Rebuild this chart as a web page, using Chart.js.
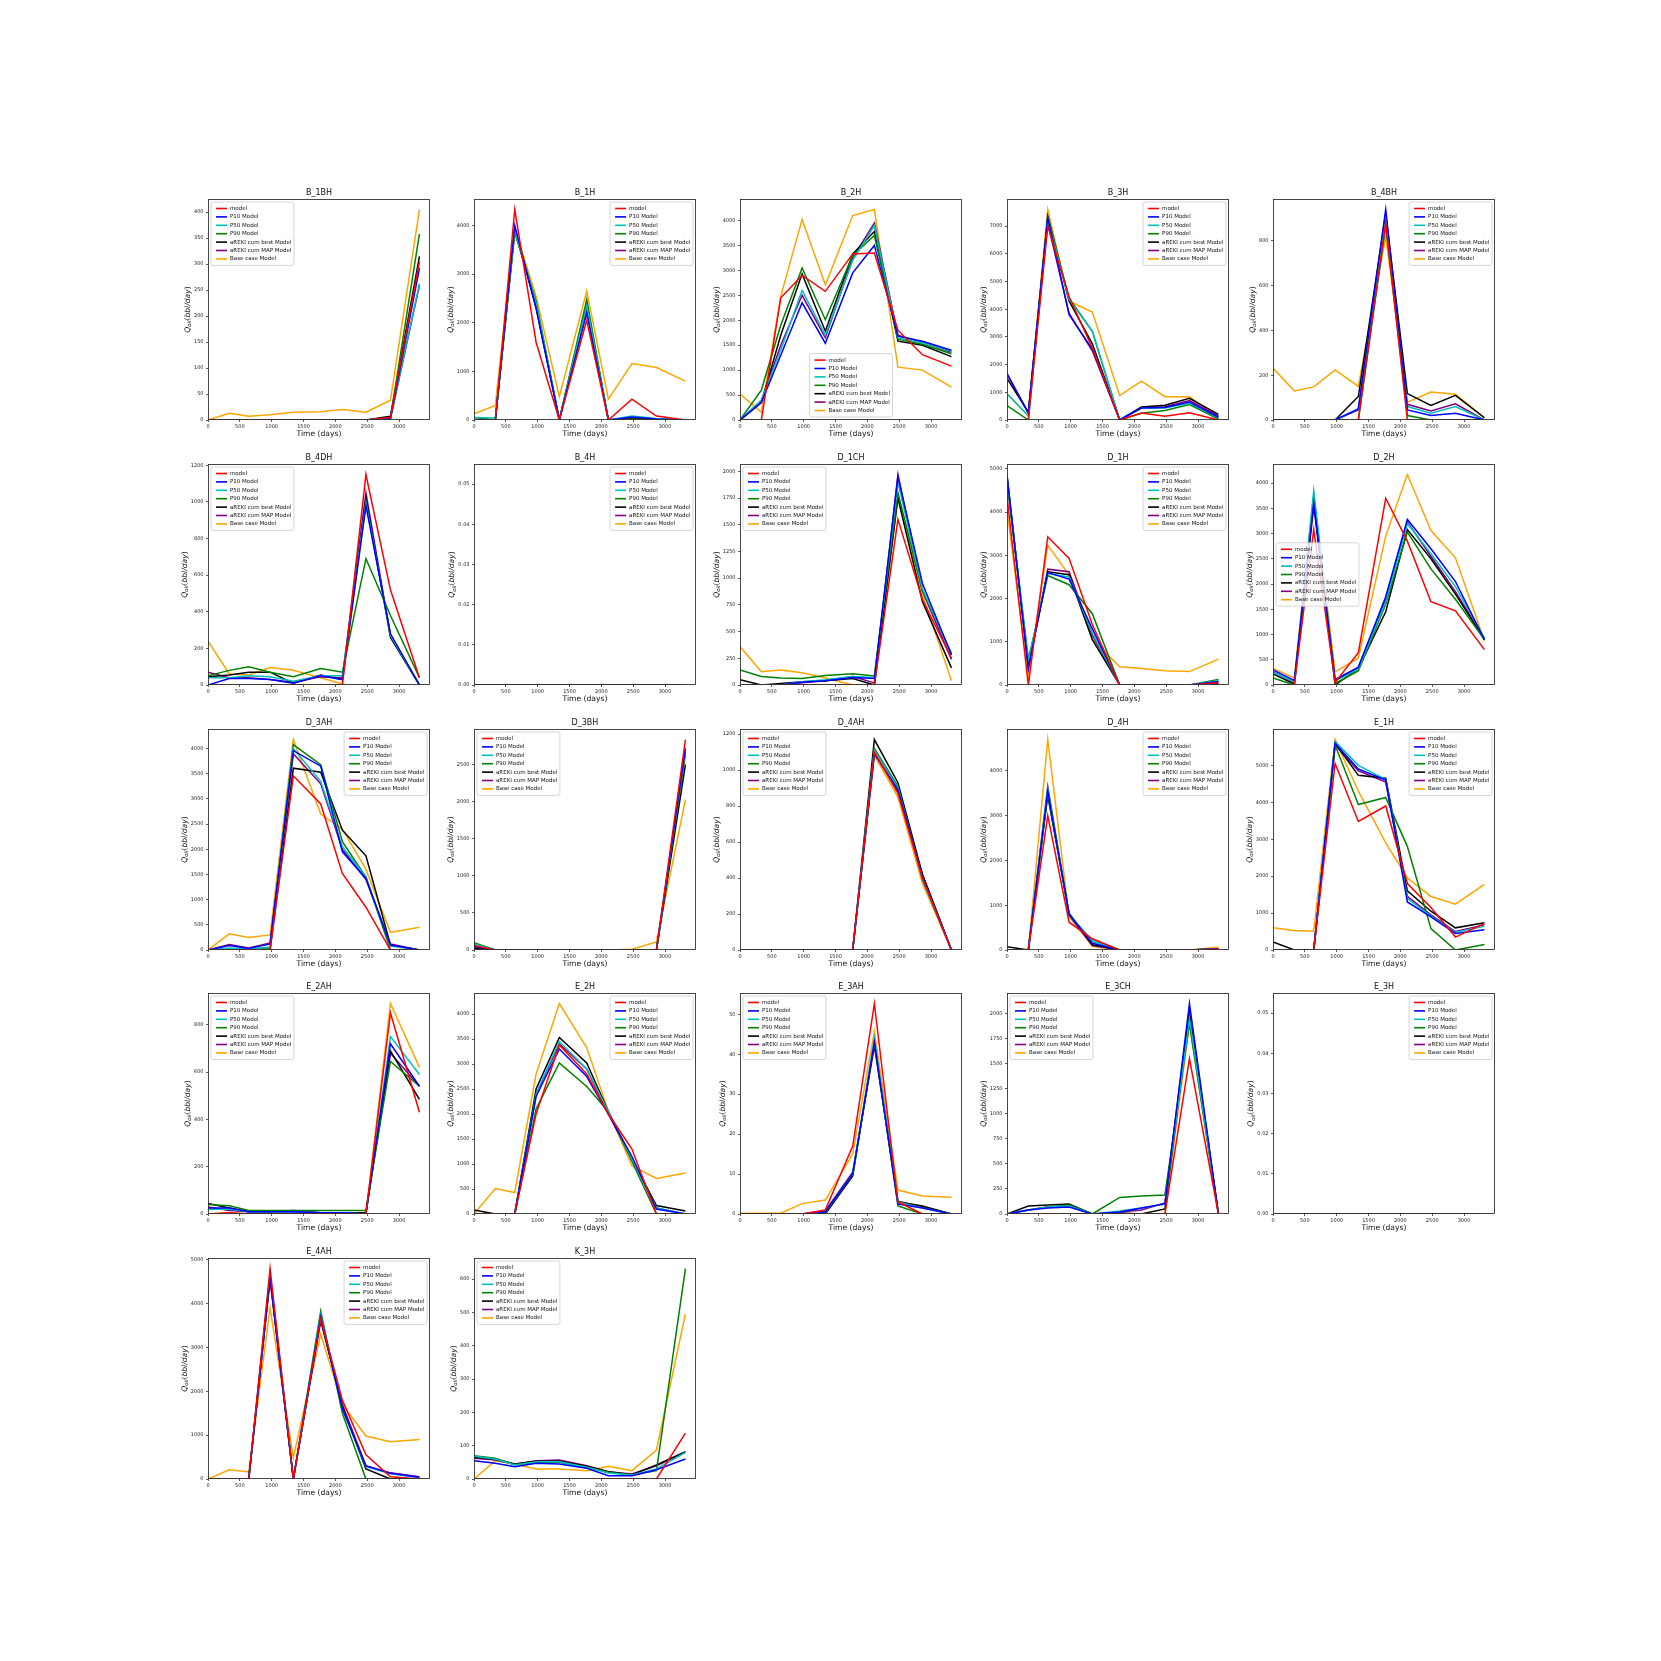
<!DOCTYPE html>
<html>
<head>
<meta charset="utf-8">
<script src="https://cdn.jsdelivr.net/npm/chart.js@4.4.1/dist/chart.umd.min.js"></script>
<style>
  html, body { margin: 0; padding: 0; background: #fff; }
  #fig { position: relative; width: 1661px; height: 1661px; background: #fff; overflow: hidden; }
  #fig canvas { position: absolute; }
</style>
</head>
<body>
<div id="fig"></div>
<script>
// report times (days)
const days = [0, 335, 640, 975, 1340, 1770, 2110, 2480, 2865, 3320];
const xTicks = [0, 500, 1000, 1500, 2000, 2500, 3000];

const seriesNames = ["model", "P10 Model", "P50 Model", "P90 Model",
  "aREKI cum best Model", "aREKI cum MAP Model", "Base case Model"];

const wells = ["B_1BH", "B_1H", "B_2H", "B_3H", "B_4BH",
  "B_4DH", "B_4H", "D_1CH", "D_1H", "D_2H",
  "D_3AH", "D_3BH", "D_4AH", "D_4H", "E_1H",
  "E_2AH", "E_2H", "E_3AH", "E_3CH", "E_3H",
  "E_4AH", "K_3H"];

// y tick step of each well's plot
const yStep = [50, 1000, 500, 1000, 200,
  200, 0.01, 250, 1000, 500,
  500, 500, 200, 1000, 1000,
  200, 500, 10, 250, 0.01,
  1000, 100];

// rows follow seriesNames order: model, P10, P50, P90, best, MAP, base case
const B_1BH = [
  [0, 0, 0, 0, 0, 0, 0, 0, 5, 305],
  [0, 0, 0, 0, 0, 0, 0, 0, 3, 292],
  [0, 0, 0, 0, 0, 0, 0, 0, 3, 262],
  [0, 0, 0, 0, 0, 0, 0, 0, 4, 358],
  [0, 0, 0, 0, 0, 0, 0, 0, 7, 315],
  [0, 0, 0, 0, 0, 0, 0, 0, 3, 259],
  [0, 13, 7, 10, 15, 16, 20, 15, 38, 405]
];
const B_1H = [
  [0, 0, 4330, 1600, 0, 2050, 0, 430, 80, 0],
  [0, 0, 4000, 2300, 0, 2200, 0, 60, 20, 0],
  [50, 40, 3900, 2400, 0, 2350, 0, 80, 30, 0],
  [50, 0, 3850, 2450, 0, 2480, 0, 50, 20, 0],
  [0, 0, 3900, 2350, 0, 2380, 0, 30, 10, 0],
  [0, 0, 3950, 2300, 0, 2300, 0, 40, 10, 0],
  [130, 300, 3950, 2540, 480, 2650, 430, 1160, 1080, 800]
];
const B_2H = [
  [0, 0, 2450, 2900, 2580, 3330, 3350, 1800, 1310, 1080],
  [0, 350, 1300, 2350, 1540, 2950, 3500, 1680, 1580, 1400],
  [0, 400, 1400, 2600, 1700, 3200, 3900, 1650, 1550, 1380],
  [0, 600, 1900, 3050, 2010, 3300, 3700, 1620, 1520, 1330],
  [0, 350, 1700, 2930, 1780, 3330, 3780, 1580, 1500, 1270],
  [0, 380, 1500, 2500, 1650, 3250, 3950, 1700, 1560, 1360],
  [520, 160, 2480, 4020, 2710, 4100, 4220, 1060, 1000, 660]
];
const B_3H = [
  [0, 0, 7000, 4450, 2600, 0, 250, 140, 260, 0],
  [1680, 250, 7300, 3800, 2550, 0, 430, 450, 650, 100],
  [950, 150, 7250, 4350, 3200, 0, 420, 430, 600, 80],
  [520, 0, 7350, 4400, 3200, 0, 240, 340, 560, 30],
  [1500, 280, 7350, 4300, 2750, 0, 470, 530, 780, 200],
  [1650, 260, 7100, 3850, 2500, 0, 440, 480, 700, 150],
  [950, 150, 7600, 4290, 3900, 880, 1400, 840, 840, 100]
];
const B_4BH = [
  [0, 0, 0, 0, 0, 880, 0, 0, 0, 0],
  [0, 0, 0, 0, 50, 940, 45, 20, 30, 0],
  [0, 0, 0, 0, 50, 900, 60, 30, 60, 0],
  [0, 0, 0, 0, 0, 870, 20, 0, 0, 0],
  [0, 0, 0, 0, 105, 920, 118, 65, 110, 10],
  [0, 0, 0, 0, 45, 880, 70, 40, 72, 0],
  [232, 130, 148, 224, 150, 820, 80, 125, 115, 10]
];
const B_4DH = [
  [0, 0, 0, 0, 0, 0, 0, 1150, 520, 40],
  [0, 35, 35, 30, 10, 50, 30, 980, 280, 0],
  [40, 40, 50, 45, 20, 50, 50, 1000, 270, 0],
  [50, 80, 100, 70, 45, 90, 70, 690, 380, 40],
  [45, 55, 70, 70, 10, 55, 30, 1020, 260, 0],
  [70, 40, 40, 30, 15, 45, 40, 1050, 270, 0],
  [240, 60, 55, 95, 80, 40, 5, 990, 280, 0]
];
const B_4H = [
  [0, 0, 0, 0, 0, 0, 0, 0, 0, 0],
  [0, 0, 0, 0, 0, 0, 0, 0, 0, 0],
  [0, 0, 0, 0, 0, 0, 0, 0, 0, 0],
  [0, 0, 0, 0, 0, 0, 0, 0, 0, 0],
  [0, 0, 0, 0, 0, 0, 0, 0, 0, 0],
  [0, 0, 0, 0, 0, 0, 0, 0, 0, 0],
  [0, 0, 0, 0, 0, 0, 0, 0, 0, 0]
];
const D_1CH = [
  [0, 0, 0, 0, 0, 0, 0, 1550, 800, 250],
  [0, 0, 0, 25, 40, 70, 60, 1950, 950, 280],
  [0, 0, 0, 30, 50, 80, 70, 1900, 900, 290],
  [140, 80, 65, 60, 90, 105, 85, 1800, 880, 300],
  [50, 0, 15, 30, 40, 60, 0, 1750, 780, 160],
  [0, 0, 0, 20, 40, 80, 20, 1970, 880, 240],
  [360, 125, 140, 115, 65, 0, 0, 1760, 850, 40]
];
const D_1H = [
  [4360, 0, 3430, 2930, 1400, 0, 0, 0, 0, 50],
  [4850, 400, 2600, 2450, 1300, 0, 0, 0, 0, 80],
  [4800, 550, 2580, 2500, 1200, 0, 0, 0, 0, 100],
  [4700, 600, 2530, 2320, 1650, 0, 0, 0, 0, 130],
  [4800, 450, 2620, 2550, 1050, 0, 0, 0, 0, 40],
  [4870, 380, 2680, 2620, 1150, 0, 0, 0, 0, 20],
  [4050, 200, 3230, 2550, 1050, 420, 380, 330, 310, 600]
];
const D_2H = [
  [0, 0, 3080, 50, 640, 3700, 2850, 1650, 1470, 700],
  [300, 90, 3600, 100, 350, 1750, 3280, 2700, 2050, 900],
  [250, 60, 3850, 80, 320, 1650, 3200, 2600, 1950, 930],
  [140, 0, 3700, 30, 280, 1600, 3030, 2300, 1700, 900],
  [220, 20, 3650, 0, 320, 1450, 3080, 2500, 1800, 900],
  [260, 50, 3550, 110, 350, 1700, 3230, 2550, 1850, 920],
  [330, 140, 3800, 260, 530, 2950, 4170, 3060, 2520, 870]
];
const D_3AH = [
  [0, 0, 0, 0, 3460, 2900, 1520, 850, 0, 0],
  [0, 90, 30, 120, 3960, 3650, 1950, 1420, 100, 0],
  [0, 40, 20, 60, 4000, 3350, 2050, 1450, 80, 0],
  [0, 10, 10, 20, 4080, 3680, 2150, 1450, 0, 0],
  [0, 10, 10, 20, 3610, 3530, 2380, 1870, 100, 0],
  [0, 110, 40, 140, 3900, 3300, 2000, 1400, 120, 0],
  [0, 320, 250, 300, 4180, 2700, 2400, 1600, 350, 450]
];
const D_3BH = [
  [60, 0, 0, 0, 0, 0, 0, 0, 0, 2840],
  [50, 0, 0, 0, 0, 0, 0, 0, 0, 2720],
  [80, 0, 0, 0, 0, 0, 0, 0, 0, 2700],
  [100, 0, 0, 0, 0, 0, 0, 0, 0, 2650],
  [20, 0, 0, 0, 0, 0, 0, 0, 0, 2500],
  [40, 0, 0, 0, 0, 0, 0, 0, 0, 2680],
  [0, 0, 0, 0, 0, 0, 0, 10, 110, 2030]
];
const D_4AH = [
  [0, 0, 0, 0, 0, 0, 1100, 870, 400, 0],
  [0, 0, 0, 0, 0, 0, 1090, 890, 410, 0],
  [0, 0, 0, 0, 0, 0, 1110, 900, 400, 0],
  [0, 0, 0, 0, 0, 0, 1120, 910, 390, 0],
  [0, 0, 0, 0, 0, 0, 1170, 930, 420, 0],
  [0, 0, 0, 0, 0, 0, 1095, 880, 420, 0],
  [0, 0, 0, 0, 0, 0, 1080, 850, 370, 0]
];
const D_4H = [
  [0, 0, 3000, 620, 250, 0, 0, 0, 0, 20],
  [0, 0, 3550, 800, 150, 0, 0, 0, 0, 30],
  [0, 0, 3600, 800, 200, 0, 0, 0, 0, 30],
  [0, 0, 3500, 780, 200, 0, 0, 0, 0, 20],
  [70, 0, 3450, 820, 120, 0, 0, 0, 0, 20],
  [0, 0, 3650, 780, 100, 0, 0, 0, 0, 10],
  [0, 0, 4700, 750, 80, 0, 0, 0, 0, 60]
];
const E_1H = [
  [0, 0, 0, 5050, 3480, 3900, 1800, 1150, 350, 720],
  [0, 0, 0, 5600, 4900, 4600, 1300, 900, 450, 550],
  [0, 0, 0, 5650, 5000, 4620, 1400, 920, 480, 640],
  [0, 0, 0, 5550, 3940, 4130, 2800, 580, 0, 150],
  [220, 0, 0, 5600, 4730, 4650, 1600, 1050, 600, 740],
  [0, 0, 0, 5550, 4850, 4550, 1450, 950, 500, 680],
  [600, 530, 510, 5700, 4300, 2900, 1950, 1450, 1240, 1780]
];
const E_2AH = [
  [0, 5, 0, 0, 0, 0, 0, 0, 850, 430],
  [25, 25, 10, 10, 10, 5, 5, 0, 720, 540],
  [20, 20, 10, 10, 10, 5, 5, 0, 750, 590],
  [40, 35, 15, 15, 15, 15, 15, 15, 645, 540],
  [45, 25, 10, 10, 15, 5, 5, 5, 690, 485],
  [30, 15, 10, 10, 10, 5, 5, 5, 680, 540],
  [0, 5, 0, 0, 0, 0, 0, 0, 890, 620]
];
const E_2H = [
  [0, 0, 0, 2000, 3380, 2800, 2000, 1300, 0, 0],
  [0, 0, 0, 2350, 3300, 2750, 2000, 1150, 100, 0],
  [0, 0, 0, 2400, 3450, 2900, 2050, 1100, 120, 0],
  [0, 0, 0, 2100, 3020, 2550, 2050, 1050, 0, 0],
  [80, 0, 0, 2500, 3530, 3020, 2050, 1100, 170, 60],
  [0, 0, 0, 2400, 3400, 2900, 2000, 1100, 120, 0],
  [0, 510, 430, 2800, 4210, 3330, 2050, 960, 710, 820]
];
const E_3AH = [
  [0, 0, 0, 0, 1, 17, 52.7, 3, 0, 0],
  [0, 0, 0, 0, 0.5, 10, 43, 2.5, 1.5, 0],
  [0, 0, 0, 0, 0.5, 10, 44, 3, 1.5, 0],
  [0, 0, 0, 0, 0.3, 10, 43, 2, 0, 0],
  [0, 0, 0, 0, 0, 9.5, 43, 3, 2, 0],
  [0, 0, 0, 0, 0.8, 10.5, 42, 3.2, 1.8, 0],
  [0.2, 0.2, 0.2, 2.6, 3.5, 15, 45.7, 6, 4.5, 4.2]
];
const E_3CH = [
  [0, 0, 0, 0, 0, 0, 0, 0, 1550, 0],
  [0, 40, 60, 70, 0, 20, 60, 100, 2100, 0],
  [0, 40, 70, 80, 0, 30, 60, 100, 1950, 0],
  [0, 40, 70, 90, 0, 165, 180, 190, 1900, 0],
  [0, 80, 90, 100, 0, 10, 0, 50, 2000, 0],
  [0, 40, 70, 80, 0, 20, 40, 110, 2050, 0],
  [0, 0, 0, 0, 0, 0, 0, 0, 1900, 0]
];
const E_3H = [
  [0, 0, 0, 0, 0, 0, 0, 0, 0, 0],
  [0, 0, 0, 0, 0, 0, 0, 0, 0, 0],
  [0, 0, 0, 0, 0, 0, 0, 0, 0, 0],
  [0, 0, 0, 0, 0, 0, 0, 0, 0, 0],
  [0, 0, 0, 0, 0, 0, 0, 0, 0, 0],
  [0, 0, 0, 0, 0, 0, 0, 0, 0, 0],
  [0, 0, 0, 0, 0, 0, 0, 0, 0, 0]
];
const E_4AH = [
  [0, 0, 0, 4800, 0, 3650, 1800, 550, 50, 0],
  [0, 0, 0, 4600, 0, 3700, 1600, 300, 130, 40],
  [0, 0, 0, 4650, 0, 3750, 1600, 280, 120, 30],
  [0, 0, 0, 4700, 0, 3830, 1500, 0, 0, 0],
  [0, 0, 0, 4600, 0, 3650, 1650, 230, 0, 0],
  [0, 0, 0, 4550, 0, 3600, 1700, 300, 140, 50],
  [0, 210, 160, 3900, 490, 3300, 1700, 980, 850, 900]
];
const K_3H = [
  [0, 0, 0, 0, 0, 0, 0, 0, 0, 138],
  [55, 47, 37, 47, 45, 32, 10, 10, 28, 60],
  [68, 60, 42, 52, 52, 35, 18, 12, 30, 80],
  [70, 62, 43, 50, 50, 35, 20, 12, 25, 632],
  [65, 60, 45, 53, 53, 38, 22, 13, 42, 82],
  [62, 57, 44, 55, 57, 40, 22, 15, 40, 80],
  [0, 55, 45, 30, 30, 25, 38, 25, 87, 496]
];

const wellData = [B_1BH, B_1H, B_2H, B_3H, B_4BH,
  B_4DH, B_4H, D_1CH, D_1H, D_2H,
  D_3AH, D_3BH, D_4AH, D_4H, E_1H,
  E_2AH, E_2H, E_3AH, E_3CH, E_3H,
  E_4AH, K_3H];

// ---- styling / layout ----
const seriesColors = ["#ff0000", "#0000ff", "#00bfbf", "#008000", "#000000", "#800080", "#ffa500"];
const legendLoc = {
  B_1BH: "ul", B_1H: "ur", B_2H: "lc", B_3H: "ur", B_4BH: "ur",
  B_4DH: "ul", B_4H: "ur", D_1CH: "ul", D_1H: "ur", D_2H: "cl",
  D_3AH: "ur", D_3BH: "ul", D_4AH: "ul", D_4H: "ur", E_1H: "ur",
  E_2AH: "ul", E_2H: "ur", E_3AH: "ul", E_3CH: "ul", E_3H: "ur",
  E_4AH: "ur", K_3H: "ul"
};
const FONT = "DejaVu Sans";
const PAD_L = 40, PAD_T = 16, PAD_R = 4, PAD_B = 24;
const PLOT_W = 222, PLOT_H = 221;

Chart.defaults.font.family = FONT;

// frame, title, axis labels and an in-axes legend
const decorPlugin = {
  id: "decor",
  afterDraw(chart) {
    const ctx = chart.ctx;
    const a = chart.chartArea;
    const name = chart.options.plugins.decor.name;
    const loc = chart.options.plugins.decor.loc;
    const cx = (a.left + a.right) / 2;
    const cy = (a.top + a.bottom) / 2;
    ctx.save();

    // spines
    ctx.strokeStyle = "#333";
    ctx.lineWidth = 0.9;
    ctx.strokeRect(a.left + 0.5, a.top + 0.5, a.right - a.left - 1, a.bottom - a.top - 1);

    // title
    ctx.fillStyle = "#111";
    ctx.font = "8px " + FONT;
    ctx.textAlign = "center";
    ctx.textBaseline = "alphabetic";
    ctx.fillText(name, cx, a.top - 4);

    // x label
    ctx.font = "7.6px " + FONT;
    ctx.textBaseline = "middle";
    ctx.fillText("Time (days)", cx, a.bottom + 14.5);

    // y label: Q_oil(bbl/day)
    ctx.font = "5px " + FONT;
    let tw = 0;
    chart.scales.y.ticks.forEach(function (t) {
      tw = Math.max(tw, ctx.measureText(String(t.label)).width);
    });
    const lx = a.left - (4.5 + tw + 6);
    const parts = [
      { t: "Q", f: "italic 7.6px " + FONT, dy: 0 },
      { t: "oil", f: "italic 5.3px " + FONT, dy: 1.8 },
      { t: "(", f: "7.6px " + FONT, dy: 0 },
      { t: "bbl/day", f: "italic 7.6px " + FONT, dy: 0 },
      { t: ")", f: "7.6px " + FONT, dy: 0 }
    ];
    let total = 0;
    parts.forEach(function (p) {
      ctx.font = p.f;
      p.w = ctx.measureText(p.t).width;
      total += p.w;
    });
    ctx.translate(lx, cy);
    ctx.rotate(-Math.PI / 2);
    ctx.textAlign = "left";
    let px = -total / 2;
    parts.forEach(function (p) {
      ctx.font = p.f;
      ctx.fillText(p.t, px, p.dy);
      px += p.w;
    });
    ctx.setTransform(1, 0, 0, 1, 0, 0);

    // legend
    ctx.font = "5.5px " + FONT;
    let maxW = 0;
    chart.data.datasets.forEach(function (ds) {
      maxW = Math.max(maxW, ctx.measureText(ds.label).width);
    });
    const pitch = 8.4;
    const w = 5 + 11 + 3 + maxW + 2.5;
    const h = 6.5 * 2 + pitch * (chart.data.datasets.length - 1);
    let bx, by;
    if (loc === "ul") { bx = a.left + 3; by = a.top + 3; }
    else if (loc === "ur") { bx = a.right - 3 - w; by = a.top + 3; }
    else if (loc === "lc") { bx = cx - w / 2; by = a.bottom - 3 - h; }
    else { bx = a.left + 3; by = cy - h / 2; }
    ctx.beginPath();
    ctx.roundRect(bx, by, w, h, 2);
    ctx.fillStyle = "rgba(255,255,255,0.8)";
    ctx.fill();
    ctx.strokeStyle = "#cccccc";
    ctx.lineWidth = 0.8;
    ctx.stroke();
    ctx.textAlign = "left";
    ctx.textBaseline = "middle";
    chart.data.datasets.forEach(function (ds, j) {
      const ry = by + 6.5 + j * pitch;
      ctx.strokeStyle = ds.borderColor;
      ctx.lineWidth = 1.6;
      ctx.beginPath();
      ctx.moveTo(bx + 5, ry);
      ctx.lineTo(bx + 16, ry);
      ctx.stroke();
      ctx.fillStyle = "#111";
      ctx.fillText(ds.label, bx + 19, ry);
    });
    ctx.restore();
  }
};

function makeChart(k) {
  const name = wells[k];
  const rows = wellData[k];
  const step = yStep[k];
  const r = Math.floor(k / 5);
  const c = k % 5;
  const plotLeft = Math.round(207.6 + c * 266.35);
  const plotTop = Math.round(199.3 + r * 264.6);

  var canvas = document.createElement("canvas");
  canvas.width = PAD_L + PLOT_W + PAD_R;
  canvas.height = PAD_T + PLOT_H + PAD_B;
  canvas.style.left = (plotLeft - PAD_L) + "px";
  canvas.style.top = (plotTop - PAD_T) + "px";
  document.getElementById("fig").appendChild(canvas);

  var peak = 0;
  rows.forEach(function (row) {
    row.forEach(function (v) { peak = Math.max(peak, v); });
  });
  const yMax = peak > 0 ? peak * 1.05 : 0.055;

  var datasets = [];
  for (var j = 0; j < seriesNames.length; j++) {
    datasets.push({
      label: seriesNames[j],
      data: days.map(function (d, i) { return { x: d, y: rows[j][i] }; }),
      borderColor: seriesColors[j],
      backgroundColor: seriesColors[j],
      borderWidth: 1.5,
      pointRadius: 0,
      tension: 0,
      fill: false
    });
  }

  const tickFont = { family: FONT, size: 5 };
  const gridOpts = { drawOnChartArea: false, drawTicks: true, tickLength: 2, color: "#333", lineWidth: 0.8 };

  new Chart(canvas, {
    type: "line",
    data: { datasets: datasets },
    options: {
      responsive: false,
      animation: false,
      devicePixelRatio: 1,
      layout: { padding: { left: 0, top: PAD_T, right: PAD_R, bottom: 0 } },
      plugins: {
        legend: { display: false },
        tooltip: { enabled: false },
        title: { display: false },
        decor: { name: name, loc: legendLoc[name] }
      },
      scales: {
        x: {
          type: "linear",
          min: 0,
          max: days[days.length - 1] * 1.05,
          afterBuildTicks: function (s) {
            s.ticks = xTicks.map(function (v) { return { value: v }; });
          },
          afterFit: function (s) { s.height = PAD_B; },
          ticks: {
            font: tickFont, color: "#222", padding: 2,
            maxRotation: 0, autoSkip: false,
            callback: function (v) { return String(v); }
          },
          grid: gridOpts,
          border: { display: false }
        },
        y: {
          type: "linear",
          min: 0,
          max: yMax,
          afterBuildTicks: function (s) {
            var t = [];
            for (var i = 0; i * step <= yMax + 1e-9; i++) {
              t.push({ value: Math.round(i * step * 1000) / 1000 });
            }
            s.ticks = t;
          },
          afterFit: function (s) { s.width = PAD_L; },
          ticks: {
            font: tickFont, color: "#222", padding: 2.5, autoSkip: false,
            callback: function (v) { return step < 1 ? v.toFixed(2) : String(v); }
          },
          grid: gridOpts,
          border: { display: false }
        }
      }
    },
    plugins: [decorPlugin]
  });
}

for (var k = 0; k < wells.length; k++) {
  makeChart(k);
}
</script>
</body>
</html>
